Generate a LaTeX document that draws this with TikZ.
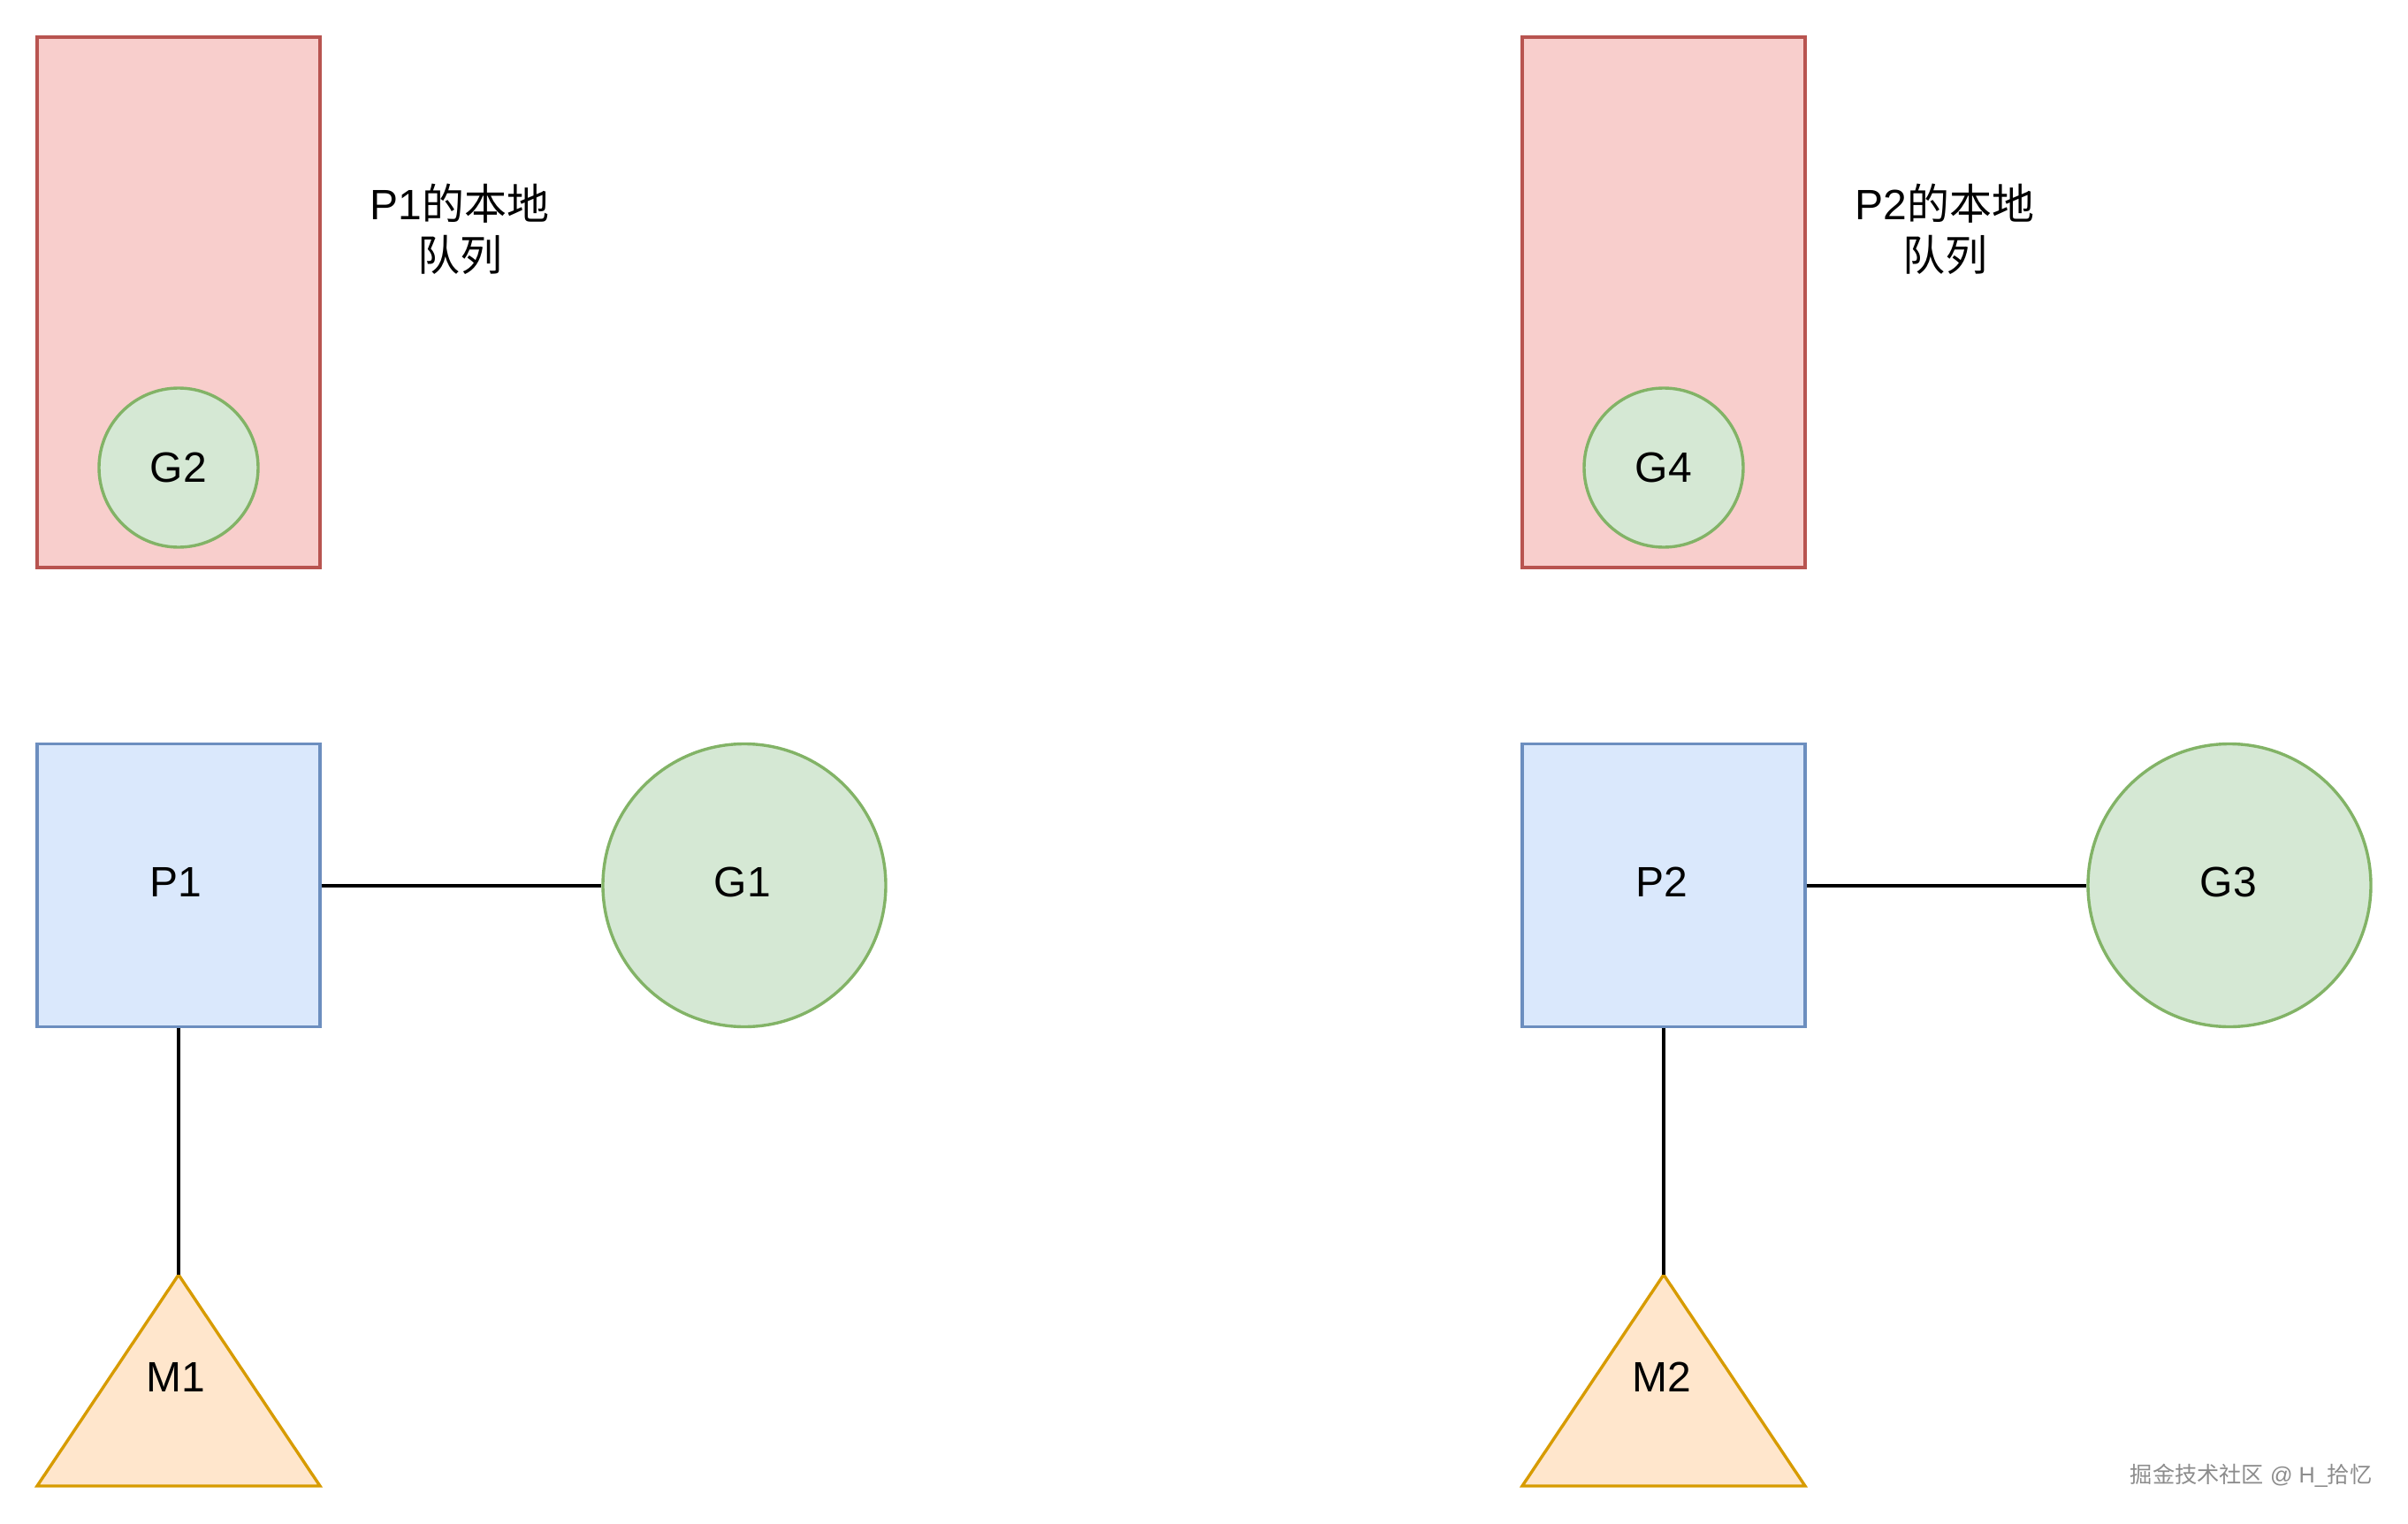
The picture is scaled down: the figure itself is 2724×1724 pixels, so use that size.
\documentclass[tikz,border=0pt]{standalone}
\usepackage{fontspec}
\setmainfont{Liberation Sans}
\newfontfamily\cjk{Noto Sans CJK SC}
\definecolor{qfill}{HTML}{F8CECC}
\definecolor{qdraw}{HTML}{B85450}
\definecolor{gfill}{HTML}{D5E8D4}
\definecolor{gdraw}{HTML}{82B366}
\definecolor{pfill}{HTML}{DAE8FC}
\definecolor{pdraw}{HTML}{6C8EBF}
\definecolor{mfill}{HTML}{FFE6CC}
\definecolor{mdraw}{HTML}{D79B00}
\begin{document}
\begin{tikzpicture}[x=0.25pt,y=-0.25pt,
  every node/.style={font=\fontsize{12pt}{14.5pt}\selectfont, inner sep=0pt},
  queuebox/.style={draw=qdraw, fill=qfill, line width=0.85pt, minimum width=80pt, minimum height=150pt},
  gsmall/.style={circle, draw=gdraw, fill=gfill, line width=0.85pt, minimum size=45pt},
  gbig/.style={circle, draw=gdraw, fill=gfill, line width=0.85pt, minimum size=80pt},
  pbox/.style={draw=pdraw, fill=pfill, line width=0.85pt, minimum width=80pt, minimum height=80pt},
  mtri/.style={draw=mdraw, fill=mfill, line width=0.85pt, line join=miter},
  link/.style={draw=black, line width=1pt},
  qlabel/.style={align=center},
  wmark/.style={text=black!45, font=\fontsize{6.3pt}{7.5pt}\selectfont}
]
\useasboundingbox (0,0) rectangle (2724,1724);

% left group
\node[queuebox] (Q1) at (202,342) {};
\node[gsmall] (G2) at (202,529) {G2};
\node[qlabel] (L1) at (520,259) {P1{\cjk 的本地}\\{\cjk 队列}};
\node[pbox] (P1) at (202,1001.5) {};
\node (P1t) at (199,998) {P1};
\node[gbig] (G1) at (842,1001.5) {};
\node (G1t) at (840,998) {G1};
\coordinate (M1top) at (202,1442);
\draw[mtri] (M1top) -- (42,1681) -- (362,1681) -- cycle;
\node (M1) at (199,1558) {M1};
\draw[link] (P1) -- (G1);
\draw[link] (P1.south) -- (M1top);

% right group
\node[queuebox] (Q2) at (1882,342) {};
\node[gsmall] (G4) at (1882,529) {G4};
\node[qlabel] (L2) at (2200,259) {P2{\cjk 的本地}\\{\cjk 队列}};
\node[pbox] (P2) at (1882,1001.5) {};
\node (P2t) at (1880,998) {P2};
\node[gbig] (G3) at (2522,1001.5) {};
\node (G3t) at (2521,998) {G3};
\coordinate (M2top) at (1882,1442);
\draw[mtri] (M2top) -- (1722,1681) -- (2042,1681) -- cycle;
\node (M2) at (1880,1558) {M2};
\draw[link] (P2) -- (G3);
\draw[link] (P2.south) -- (M2top);

% watermark
\node[wmark, anchor=east] (WM) at (2684,1669) {{\cjk 掘金技术社区} @ H\_{\cjk 拾忆}};
\end{tikzpicture}
\end{document}
